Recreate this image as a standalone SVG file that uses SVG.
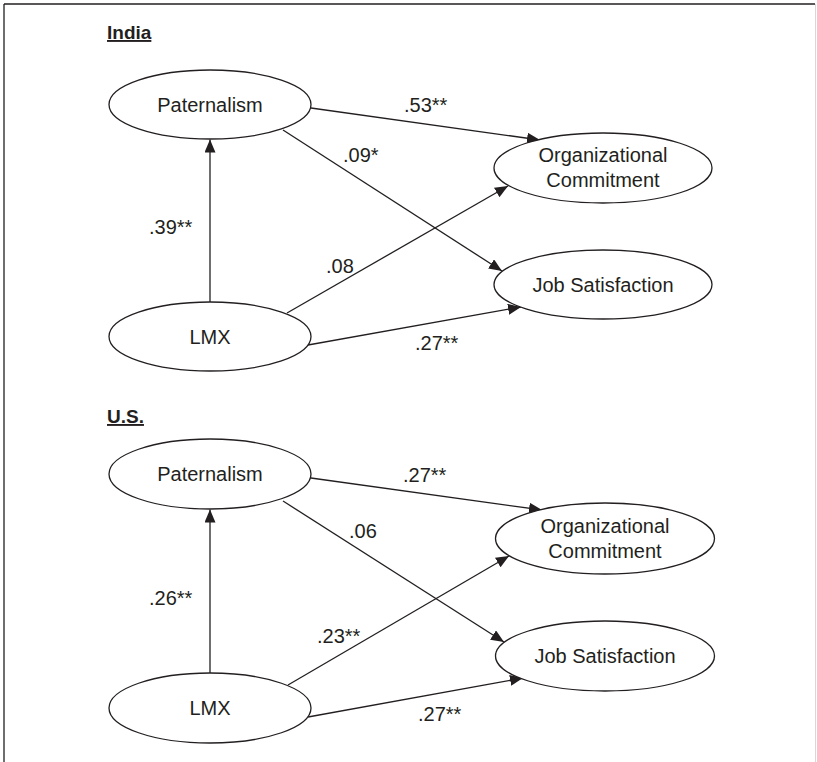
<svg xmlns="http://www.w3.org/2000/svg" width="817" height="762" viewBox="0 0 817 762">
<style>
  .node ellipse { fill: #fff; stroke: #231f20; stroke-width: 1.3; }
  .node text, .lbl { font-family: "Liberation Sans", Arial, sans-serif; font-size: 20px; fill: #231f20; }
  .node text { text-anchor: middle; }
  .head { font-family: "Liberation Sans", Arial, sans-serif; font-size: 19px; font-weight: bold; fill: #231f20; text-decoration: underline; }
  .conn line { stroke: #231f20; stroke-width: 1.3; marker-end: url(#arr); }
</style>
<defs>
  <marker id="arr" markerUnits="userSpaceOnUse" markerWidth="13" markerHeight="11" refX="13" refY="5.5" orient="auto">
    <path d="M0,0 L13,5.5 L0,11 z" fill="#231f20"/>
  </marker>
</defs>
<rect width="817" height="762" fill="#fff"/>
<g id="frame">
  <line x1="4" y1="4" x2="815" y2="4" stroke="#231f20" stroke-width="1.3"/>
  <line x1="4" y1="4" x2="4" y2="762" stroke="#231f20" stroke-width="1.3"/>
  <line x1="815.5" y1="4" x2="815.5" y2="762" stroke="#d8d8d8" stroke-width="1"/>
</g>
<text class="head" x="107" y="39">India</text>
<text class="head" x="107" y="423">U.S.</text>

<g id="connectors" class="conn">
  <line x1="210" y1="302" x2="210" y2="139.5"/>
  <line x1="311" y1="108" x2="540" y2="140"/>
  <line x1="283" y1="130" x2="502" y2="271"/>
  <line x1="287" y1="313" x2="508" y2="186"/>
  <line x1="308" y1="345" x2="521" y2="307"/>
  <line x1="210" y1="673" x2="210" y2="509.5"/>
  <line x1="311" y1="478" x2="542" y2="510"/>
  <line x1="283" y1="501" x2="504" y2="642"/>
  <line x1="288" y1="685" x2="509" y2="556"/>
  <line x1="308" y1="717" x2="523" y2="678"/>
</g>

<g id="labels">
  <text class="lbl" x="404" y="112">.53**</text>
  <text class="lbl" x="343" y="162">.09*</text>
  <text class="lbl" x="149" y="234">.39**</text>
  <text class="lbl" x="326" y="273">.08</text>
  <text class="lbl" x="415" y="350">.27**</text>
  <text class="lbl" x="403" y="482">.27**</text>
  <text class="lbl" x="349" y="538">.06</text>
  <text class="lbl" x="149" y="605">.26**</text>
  <text class="lbl" x="317" y="643">.23**</text>
  <text class="lbl" x="418" y="721">.27**</text>
</g>

<g id="india-paternalism" class="node">
  <ellipse cx="210" cy="104.5" rx="101" ry="34.5"/>
  <text x="210" y="112">Paternalism</text>
</g>
<g id="india-oc" class="node">
  <ellipse cx="603" cy="168" rx="109" ry="35"/>
  <text x="603" y="162">Organizational</text>
  <text x="603" y="187">Commitment</text>
</g>
<g id="india-js" class="node">
  <ellipse cx="603" cy="284.5" rx="109" ry="34.5"/>
  <text x="603" y="291.5">Job Satisfaction</text>
</g>
<g id="india-lmx" class="node">
  <ellipse cx="210" cy="336.5" rx="101" ry="34.5"/>
  <text x="210" y="344">LMX</text>
</g>

<g id="us-paternalism" class="node">
  <ellipse cx="210" cy="474" rx="101" ry="35"/>
  <text x="210" y="481">Paternalism</text>
</g>
<g id="us-oc" class="node">
  <ellipse cx="605" cy="538.5" rx="109.5" ry="35.5"/>
  <text x="605" y="533">Organizational</text>
  <text x="605" y="558">Commitment</text>
</g>
<g id="us-js" class="node">
  <ellipse cx="605" cy="656" rx="109.5" ry="35"/>
  <text x="605" y="663">Job Satisfaction</text>
</g>
<g id="us-lmx" class="node">
  <ellipse cx="210" cy="708" rx="101" ry="35"/>
  <text x="210" y="715">LMX</text>
</g>
</svg>
